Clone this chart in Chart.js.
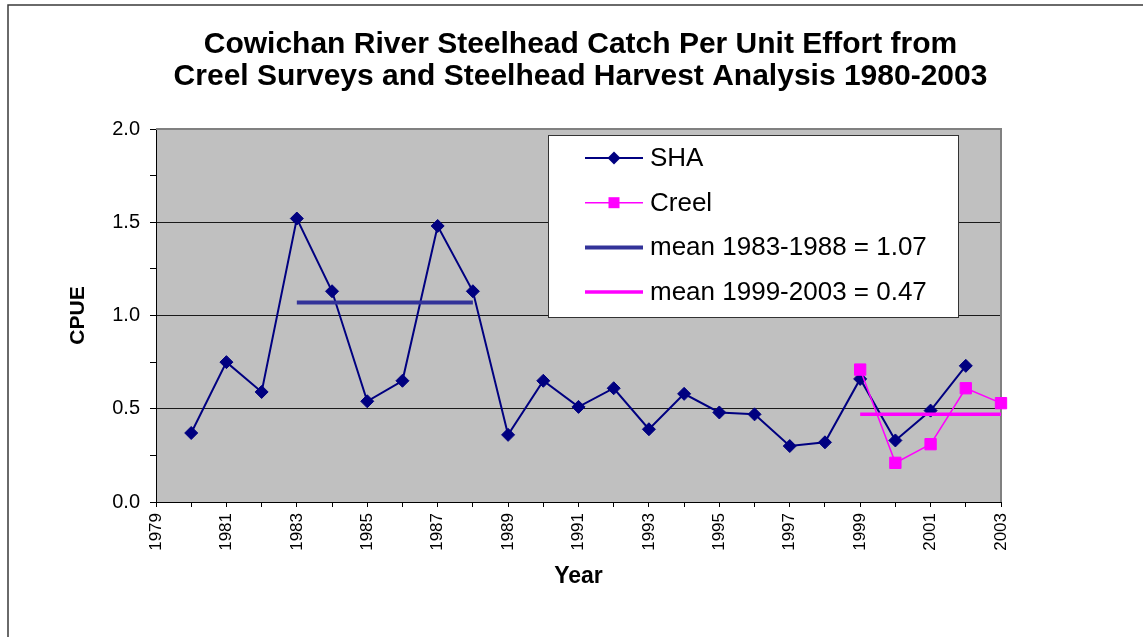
<!DOCTYPE html>
<html>
<head>
<meta charset="utf-8">
<script src="https://cdn.jsdelivr.net/npm/chart.js@4.4.0/dist/chart.umd.min.js"></script>
<style>
html,body{margin:0;padding:0;background:#fff;overflow:hidden}
#wrap{width:1143px;height:637px;position:relative}
</style>
</head>
<body>
<div id="wrap"><canvas id="c" width="1143" height="637"></canvas></div>
<script>
// ---------- data ----------
const titleLines = [
  "Cowichan River Steelhead Catch Per Unit Effort from",
  "Creel Surveys and Steelhead Harvest Analysis 1980-2003"
];
const xAxisTitle = "Year";
const yAxisTitle = "CPUE";
const seriesLabels = ["SHA", "Creel", "mean 1983-1988 = 1.07", "mean 1999-2003 = 0.47"];

const shaYears = [1980,1981,1982,1983,1984,1985,1986,1987,1988,1989,1990,1991,1992,1993,1994,1995,1996,1997,1998,1999,2000,2001,2002];
const shaValues = [0.37,0.75,0.59,1.52,1.13,0.54,0.65,1.48,1.13,0.36,0.65,0.51,0.61,0.39,0.58,0.48,0.47,0.30,0.32,0.66,0.33,0.49,0.73];

const creelYears = [1999,2000,2001,2002,2003];
const creelValues = [0.71,0.21,0.31,0.61,0.53];

const mean1Years = [1983,1988];
const mean1Values = [1.07,1.07];
const mean2Years = [1999,2003];
const mean2Values = [0.47,0.47];

const xTickLabels = ["1979","1981","1983","1985","1987","1989","1991","1993","1995","1997","1999","2001","2003"];
const yTickLabels = ["0.0","0.5","1.0","1.5","2.0"];

// ---------- helpers ----------
const FONT = "Arial, 'Liberation Sans', Helvetica, sans-serif";
const pts = (xs, ys) => xs.map((x, i) => ({x: x, y: ys[i]}));

const framePlugin = {
  id: 'frame',
  beforeDraw(chart) {
    const {ctx, chartArea: a} = chart;
    ctx.save();
    ctx.fillStyle = '#ffffff';
    ctx.fillRect(0, 0, chart.width, chart.height);
    ctx.fillStyle = '#C0C0C0';
    ctx.fillRect(a.left, a.top, a.right - a.left, a.bottom - a.top);
    ctx.strokeStyle = '#3a3a3a';
    ctx.lineWidth = 1.5;
    ctx.beginPath();
    ctx.moveTo(8, chart.height);
    ctx.lineTo(8, 5);
    ctx.lineTo(chart.width, 5);
    ctx.stroke();
    ctx.restore();
  },
  beforeDatasetsDraw(chart) {
    const {ctx, chartArea: a} = chart;
    ctx.save();
    ctx.strokeStyle = '#808080';
    ctx.lineWidth = 2;
    ctx.beginPath();
    ctx.moveTo(a.left, a.top);
    ctx.lineTo(a.right, a.top);
    ctx.lineTo(a.right, a.bottom);
    ctx.stroke();
    ctx.restore();
  },
  afterDraw(chart) {
    const {ctx, chartArea: a} = chart;
    ctx.save();
    ctx.fillStyle = '#000';
    ctx.font = "bold 30px " + FONT;
    ctx.textAlign = 'center';
    ctx.textBaseline = 'middle';
    const cx = (a.left + a.right) / 2 + 2;
    titleLines.forEach((t, i) => ctx.fillText(t, cx, 45 + i * 32));

    const bx = 548.5, by = 135.5, bw = 410, bh = 182;
    ctx.fillStyle = '#ffffff';
    ctx.fillRect(bx, by, bw, bh);
    ctx.strokeStyle = '#333';
    ctx.lineWidth = 1;
    ctx.strokeRect(bx, by, bw, bh);
    const dsets = chart.data.datasets;
    dsets.forEach((d, i) => {
      const y = 158 + i * 44.7;
      ctx.strokeStyle = d.borderColor;
      ctx.lineWidth = d.borderWidth;
      ctx.beginPath();
      ctx.moveTo(585, y);
      ctx.lineTo(643, y);
      ctx.stroke();
      if (d.pointRadius > 0) {
        ctx.fillStyle = d.pointBackgroundColor;
        ctx.beginPath();
        if (d.pointStyle === 'rectRot') {
          const r = 6.5;
          ctx.moveTo(614, y - r); ctx.lineTo(614 + r, y); ctx.lineTo(614, y + r); ctx.lineTo(614 - r, y);
          ctx.closePath();
        } else {
          const r = 5.5;
          ctx.rect(614 - r, y - r, 2 * r, 2 * r);
        }
        ctx.fill();
      }
      ctx.fillStyle = '#000';
      ctx.font = "26px " + FONT;
      ctx.textAlign = 'left';
      ctx.textBaseline = 'alphabetic';
      ctx.fillText(d.label, 650, y + 8);
    });
    ctx.restore();
  }
};

new Chart(document.getElementById('c'), {
  type: 'line',
  data: {
    datasets: [
      {
        label: seriesLabels[0],
        data: pts(shaYears, shaValues),
        borderColor: '#000080',
        backgroundColor: '#000080',
        borderWidth: 2,
        pointStyle: 'rectRot',
        pointRadius: 6.5,
        pointBackgroundColor: '#000080',
        pointBorderColor: '#000080',
        pointBorderWidth: 1,
        tension: 0,
        clip: false,
        order: 4
      },
      {
        label: seriesLabels[1],
        data: pts(creelYears, creelValues),
        borderColor: '#FF00FF',
        backgroundColor: '#FF00FF',
        borderWidth: 1.5,
        pointStyle: 'rect',
        pointRadius: 8,
        pointBackgroundColor: '#FF00FF',
        pointBorderColor: '#FF00FF',
        pointBorderWidth: 1,
        tension: 0,
        clip: false,
        order: 3
      },
      {
        label: seriesLabels[2],
        data: pts(mean1Years, mean1Values),
        borderColor: '#333399',
        borderWidth: 4,
        pointRadius: 0,
        tension: 0,
        clip: false,
        order: 2
      },
      {
        label: seriesLabels[3],
        data: pts(mean2Years, mean2Values),
        borderColor: '#FF00FF',
        borderWidth: 3.5,
        pointRadius: 0,
        tension: 0,
        clip: false,
        order: 1
      }
    ]
  },
  options: {
    responsive: false,
    animation: false,
    devicePixelRatio: 1,
    layout: { padding: { top: 129, right: 142, bottom: 0, left: 0 } },
    plugins: {
      legend: { display: false },
      title: { display: false },
      tooltip: { enabled: false }
    },
    scales: {
      x: {
        type: 'linear',
        min: 1979,
        max: 2003,
        offset: false,
        afterFit(s) { s.height = 135; },
        border: { display: true, color: '#000', width: 1 },
        grid: { display: true, drawOnChartArea: false, drawTicks: true, tickLength: 5, color: '#000', tickColor: '#000' },
        ticks: {
          stepSize: 1,
          autoSkip: false,
          minRotation: 90,
          maxRotation: 90,
          padding: 6,
          color: '#000',
          font: { family: FONT, size: 17 },
          callback: (v) => { const s = String(v); return xTickLabels.includes(s) ? s : ''; }
        },
        title: {
          display: true,
          text: xAxisTitle,
          color: '#000',
          font: { family: FONT, size: 23, weight: 'bold', lineHeight: 1.2 },
          padding: { top: 0, bottom: 47 }
        }
      },
      y: {
        type: 'linear',
        min: 0,
        max: 2,
        afterFit(s) { s.width = 156; },
        border: { display: true, color: '#000', width: 1 },
        grid: {
          display: true,
          drawTicks: true,
          tickLength: 6,
          tickColor: '#000',
          color: (c) => {
            const v = c.tick ? c.tick.value : null;
            if (v == null) return 'rgba(0,0,0,0)';
            const idx = Math.round(v / 0.5);
            const major = Math.abs(v - idx * 0.5) < 1e-6;
            if (!major || v <= 0) return 'rgba(0,0,0,0)';
            if (v >= 2) return '#808080';
            return '#1a1a1a';
          }
        },
        ticks: {
          stepSize: 0.25,
          autoSkip: false,
          padding: 10,
          color: '#000',
          font: { family: FONT, size: 20 },
          callback: (v) => {
            const idx = Math.round(v / 0.5);
            return Math.abs(v - idx * 0.5) < 1e-6 ? yTickLabels[idx] : '';
          }
        },
        title: {
          display: true,
          text: yAxisTitle,
          color: '#000',
          font: { family: FONT, size: 21, weight: 'bold', lineHeight: 1.2 },
          padding: { top: 66, bottom: 0 }
        }
      }
    }
  },
  plugins: [framePlugin]
});
</script>
</body>
</html>
